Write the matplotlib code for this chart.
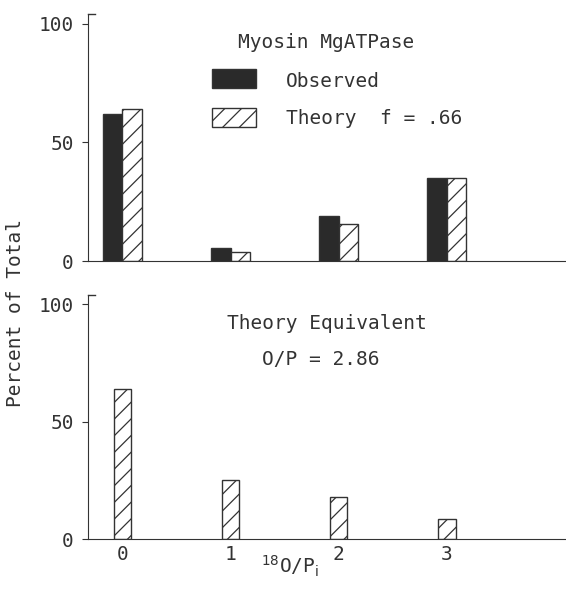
import matplotlib.pyplot as plt
from matplotlib.patches import Rectangle

# data
labels = ['0', '1', '2', '3']
observed = [62, 5.5, 19, 35]
theory_f = [64, 3.8, 15.5, 35]
theory_equiv = [64, 25, 18, 8.5]
yticks = [0, 50, 100]

ink = '#333333'
plt.rcParams['font.family'] = ['DejaVu Sans Mono', 'DejaVu Sans']
plt.rcParams['font.size'] = 14
plt.rcParams['hatch.linewidth'] = 0.9
plt.rcParams['hatch.color'] = ink
plt.rcParams['text.color'] = ink

fig = plt.figure(figsize=(5.66, 5.9), dpi=100)
ax1 = fig.add_axes([0.155, 0.5576, 0.845, 0.4186])
ax2 = fig.add_axes([0.155, 0.0864, 0.845, 0.4136])

x = list(range(len(labels)))
w = 0.18

ax1.bar([i - w / 2 for i in x], observed, width=w, color='#2a2a2a',
        edgecolor=ink, linewidth=1.0)
ax1.bar([i + w / 2 for i in x], theory_f, width=w, color='white',
        edgecolor=ink, linewidth=1.0, hatch='//')
ax2.bar(x, theory_equiv, width=0.16, color='white', edgecolor=ink,
        linewidth=1.0, hatch='//')

for ax in (ax1, ax2):
    ax.set_xlim(-0.32, 4.1)
    ax.set_ylim(0, 104)
    ax.set_yticks(yticks)
    ax.spines['top'].set_visible(False)
    ax.spines['right'].set_visible(False)
    ax.spines['left'].set_color(ink)
    ax.spines['bottom'].set_color(ink)
    ax.tick_params(axis='y', direction='out', length=4, color=ink,
                   labelcolor=ink, labelsize=14, pad=6)
    # little cap at the top of the y axis
    ax.plot([0, 0.015], [1, 1], transform=ax.transAxes, color=ink,
            lw=1.0, clip_on=False)

ax1.set_xticks([])
ax2.set_xticks(x)
ax2.set_xticklabels(labels)
ax2.tick_params(axis='x', length=0, labelcolor=ink, labelsize=14, pad=4)

# legend of the top panel, drawn by hand
ax1.text(0.498, 0.883, 'Myosin MgATPase', transform=ax1.transAxes,
         ha='center', va='center', fontsize=14)
ax1.add_patch(Rectangle((0.259, 0.70), 0.092, 0.077, transform=ax1.transAxes,
                        facecolor='#2a2a2a', edgecolor=ink, lw=1.0))
ax1.add_patch(Rectangle((0.259, 0.543), 0.092, 0.077, transform=ax1.transAxes,
                        facecolor='white', edgecolor=ink, lw=1.0, hatch='//'))
ax1.text(0.414, 0.725, 'Observed', transform=ax1.transAxes,
         ha='left', va='center', fontsize=14)
ax1.text(0.414, 0.579, 'Theory  f = .66', transform=ax1.transAxes,
         ha='left', va='center', fontsize=14)

ax2.text(0.5, 0.885, 'Theory Equivalent', transform=ax2.transAxes,
         ha='center', va='center', fontsize=14)
ax2.text(0.487, 0.734, 'O/P = 2.86', transform=ax2.transAxes,
         ha='center', va='center', fontsize=14)

fig.text(0.512, 0.04, r'$^{18}$O/P$_\mathrm{i}$', ha='center', va='center',
         fontsize=14, color=ink)
fig.text(0.027, 0.47, 'Percent of Total', rotation=90, ha='center',
         va='center', fontsize=14, color=ink)

fig.savefig('out.png', dpi=100)
